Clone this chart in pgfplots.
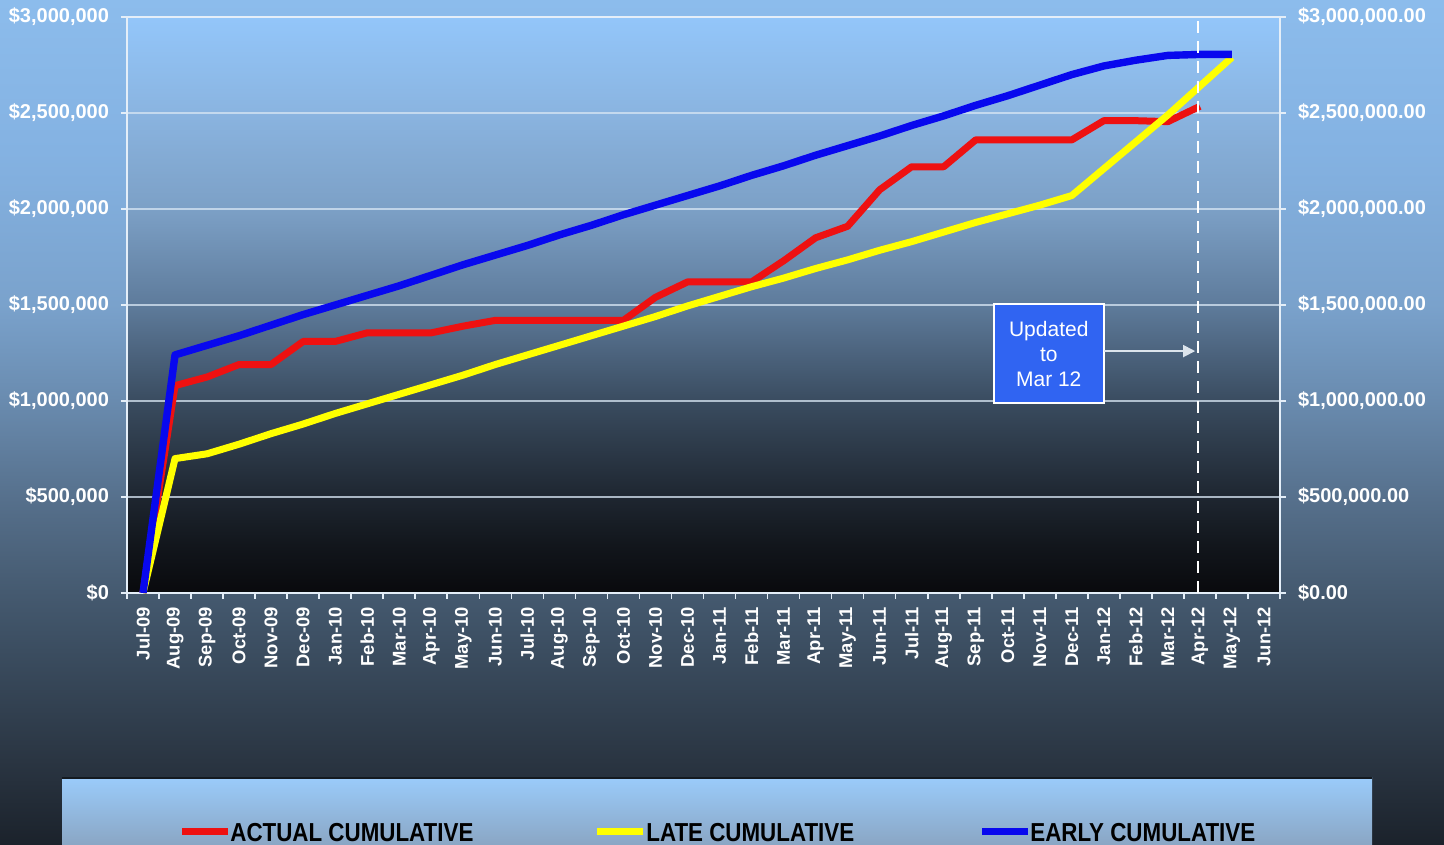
\documentclass[border=0pt]{standalone}
\usepackage{pgfplots}
\pgfplotsset{compat=1.18}
\usepackage{fontspec}
\setmainfont{Liberation Sans}
\newfontfamily\legendfont{Liberation Sans}[FakeStretch=0.86]
\usetikzlibrary{arrows.meta}

\definecolor{ob0}{HTML}{1B222B}
\definecolor{ob1}{HTML}{2A3542}
\definecolor{ob2}{HTML}{3B4D60}
\definecolor{ob3}{HTML}{455A70}
\definecolor{ob4}{HTML}{56708C}
\definecolor{ob5}{HTML}{6A8CB0}
\definecolor{ob6}{HTML}{7AA2CC}
\definecolor{ob7}{HTML}{84B2E2}
\definecolor{ob8}{HTML}{8CBCEC}

\definecolor{pb0}{HTML}{090A0D}
\definecolor{pb1}{HTML}{12161C}
\definecolor{pb2}{HTML}{1E2630}
\definecolor{pb3}{HTML}{3A4C60}
\definecolor{pb4}{HTML}{5E7B9B}
\definecolor{pb5}{HTML}{7CA0C6}
\definecolor{pb6}{HTML}{8AB4E0}
\definecolor{pb7}{HTML}{93C6FA}

\definecolor{legtop}{HTML}{9ACBFA}
\definecolor{legbot}{HTML}{8AA6C4}
\definecolor{legline}{HTML}{141A20}
\definecolor{frame}{HTML}{E4EEF8}
\definecolor{gridc}{HTML}{D8E6F4}
\definecolor{boxblue}{HTML}{3064F2}
\definecolor{arrowc}{HTML}{DCE4EC}
\definecolor{sred}{HTML}{EE1111}
\definecolor{syellow}{HTML}{FFFF00}
\definecolor{sblue}{HTML}{0808EE}

\pgfdeclareverticalshading{outerbg}{100bp}{color(0bp)=(ob0); color(25bp)=(ob0); color(30bp)=(ob1); color(36.5bp)=(ob2); color(40bp)=(ob3); color(45.5bp)=(ob4); color(51.5bp)=(ob5); color(57bp)=(ob6); color(66bp)=(ob7); color(75bp)=(ob8); color(100bp)=(ob8)}
\pgfdeclareverticalshading{plotbg}{100bp}{color(0bp)=(pb0); color(25bp)=(pb0); color(29.2bp)=(pb1); color(33.3bp)=(pb2); color(41.7bp)=(pb3); color(50bp)=(pb4); color(58.3bp)=(pb5); color(66.7bp)=(pb6); color(75bp)=(pb7); color(100bp)=(pb7)}

\pgfplotstableread{
i actual
0 0
1 1080000
2 1125000
3 1190000
4 1190000
5 1310000
6 1310000
7 1355000
8 1355000
9 1355000
10 1390000
11 1420000
12 1420000
13 1420000
14 1420000
15 1420000
16 1540000
17 1620000
18 1620000
19 1620000
20 1730000
21 1850000
22 1910000
23 2100000
24 2220000
25 2220000
26 2360000
27 2360000
28 2360000
29 2360000
30 2460000
31 2460000
32 2455000
33 2535000
}\actualtab

\pgfplotstableread{
i late
0 0
1 700000
2 725000
3 775000
4 830000
5 880000
6 935000
7 985000
8 1035000
9 1085000
10 1135000
11 1190000
12 1240000
13 1290000
14 1340000
15 1390000
16 1440000
17 1495000
18 1545000
19 1595000
20 1640000
21 1690000
22 1735000
23 1785000
24 1830000
25 1880000
26 1930000
27 1975000
28 2020000
29 2070000
30 2210000
31 2350000
32 2490000
33 2640000
34 2790000
}\latetab

\pgfplotstableread{
i early
0 0
1 1240000
2 1290000
3 1340000
4 1395000
5 1450000
6 1500000
7 1550000
8 1600000
9 1655000
10 1710000
11 1760000
12 1810000
13 1865000
14 1915000
15 1970000
16 2020000
17 2070000
18 2120000
19 2175000
20 2225000
21 2280000
22 2330000
23 2380000
24 2435000
25 2485000
26 2540000
27 2590000
28 2645000
29 2700000
30 2745000
31 2775000
32 2800000
33 2805000
34 2805000
}\earlytab

\begin{document}
\begin{tikzpicture}
\shade[shading=outerbg] (0,0) rectangle (722bp,422.5bp);
% legend box
\shade[top color=legtop, bottom color=legbot] (31bp,0) rectangle (686bp,33.5bp);
\draw[legline, line width=1.2bp] (31bp,33.5bp) -- (686bp,33.5bp);
\draw[sred, line width=3.5bp] (91bp,6.5bp) -- (114bp,6.5bp);
\node[anchor=base west, inner sep=0, text=black] at (115bp,1.8bp) {\legendfont\bfseries\fontsize{13bp}{13bp}\selectfont ACTUAL CUMULATIVE};
\draw[syellow, line width=3.5bp] (298.5bp,6.5bp) -- (321.5bp,6.5bp);
\node[anchor=base west, inner sep=0, text=black] at (323bp,1.8bp) {\legendfont\bfseries\fontsize{13bp}{13bp}\selectfont LATE CUMULATIVE};
\draw[sblue, line width=3.5bp] (491bp,6.5bp) -- (514bp,6.5bp);
\node[anchor=base west, inner sep=0, text=black] at (515bp,1.8bp) {\legendfont\bfseries\fontsize{13bp}{13bp}\selectfont EARLY CUMULATIVE};

\begin{axis}[
  at={(63.5bp,126bp)}, anchor=south west,
  scale only axis, width=576.5bp, height=288bp,
  xmin=-0.5, xmax=35.5, ymin=0, ymax=3000000,
  clip=false,
  axis background/.style={shading=plotbg},
  axis line style={draw=frame, line width=1bp},
  tick align=outside, xtick pos=left, ytick pos=left,
  major tick length=3bp,
  tick style={draw=frame, line width=0.8bp},
  xtick={-0.5,0.5,...,35.5}, xticklabels={},
  extra x ticks={0,1,...,35},
  extra x tick labels={Jul-09,Aug-09,Sep-09,Oct-09,Nov-09,Dec-09,Jan-10,Feb-10,Mar-10,Apr-10,May-10,Jun-10,Jul-10,Aug-10,Sep-10,Oct-10,Nov-10,Dec-10,Jan-11,Feb-11,Mar-11,Apr-11,May-11,Jun-11,Jul-11,Aug-11,Sep-11,Oct-11,Nov-11,Dec-11,Jan-12,Feb-12,Mar-12,Apr-12,May-12,Jun-12},
  extra x tick style={major tick length=0pt},
  xticklabel style={yshift=-3.5bp, rotate=90, anchor=east, font=\bfseries\fontsize{9.2bp}{10bp}\selectfont, text=white},
  ytick={0,500000,1000000,1500000,2000000,2500000,3000000},
  yticklabels={{\$0},{\$500,000},{\$1,000,000},{\$1,500,000},{\$2,000,000},{\$2,500,000},{\$3,000,000}},
  yticklabel style={xshift=-2.5bp, font=\bfseries\fontsize{10bp}{11bp}\selectfont, text=white},
  ymajorgrids, grid style={gridc, line width=0.9bp, opacity=0.75},
]
\addplot[sred, line width=3.5bp, line join=round] table[x=i, y=actual] {\actualtab};
\addplot[syellow, line width=3.5bp, line join=round] table[x=i, y=late] {\latetab};
\addplot[sblue, line width=3.7bp, line join=round] table[x=i, y=early] {\earlytab};
\addplot[white, line width=1bp, dash pattern=on 6bp off 4bp] coordinates {(32.95,0) (32.95,3000000)};
\node[fill=boxblue, draw=white, line width=0.8bp, minimum width=55bp, minimum height=49.5bp, text=white, align=center, font=\fontsize{10.5bp}{12.5bp}\selectfont, inner sep=0] at (axis cs:28.28,1247400) {Updated\\to\\Mar 12};
\draw[arrowc, line width=0.9bp, -{Triangle[length=6bp, width=6bp]}] (axis cs:30.0,1260000) -- (axis cs:32.85,1260000);
\end{axis}

\begin{axis}[
  at={(63.5bp,126bp)}, anchor=south west,
  scale only axis, width=576.5bp, height=288bp,
  xmin=-0.5, xmax=35.5, ymin=0, ymax=3000000,
  hide x axis, axis y line*=right,
  axis line style={draw=frame, line width=1bp},
  tick align=outside,
  major tick length=3bp,
  tick style={draw=frame, line width=0.8bp},
  ytick={0,500000,1000000,1500000,2000000,2500000,3000000},
  yticklabels={{\$0.00},{\$500,000.00},{\$1,000,000.00},{\$1,500,000.00},{\$2,000,000.00},{\$2,500,000.00},{\$3,000,000.00}},
  yticklabel style={xshift=2.5bp, font=\bfseries\fontsize{10bp}{11bp}\selectfont, text=white},
]
\addplot[draw=none] coordinates {(0,0)};
\end{axis}
\pgfresetboundingbox
\path (0,0) rectangle (722bp,422.5bp);
\end{tikzpicture}
\end{document}
